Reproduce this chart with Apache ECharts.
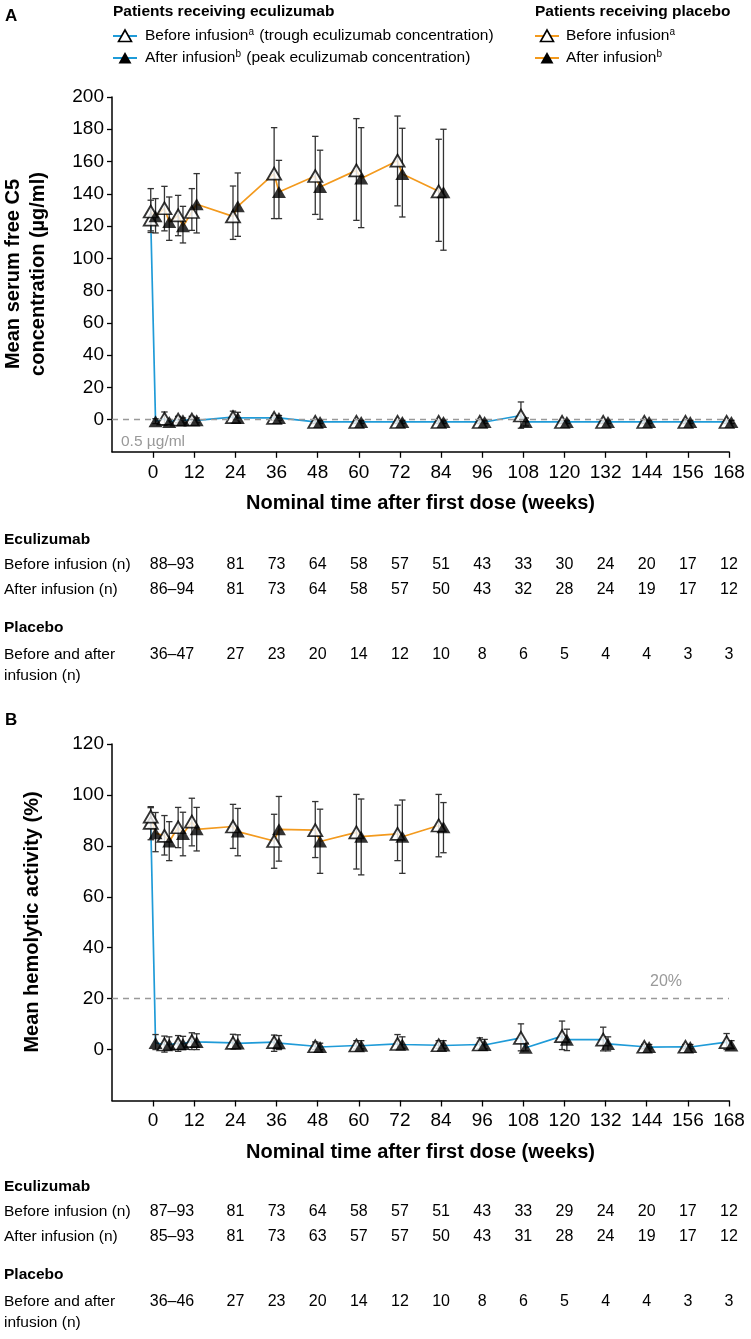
<!DOCTYPE html>
<html><head><meta charset="utf-8">
<script src="https://cdn.jsdelivr.net/npm/echarts@6/dist/echarts.min.js"></script>
<style>html,body{margin:0;padding:0;background:#fff}#c{width:751px;height:1339px}</style>
</head><body><div id="c"></div>
<script>
// ---------- DATA ----------
const weeks = [0,4,8,12,24,36,48,60,72,84,96,108,120,132,144,156,168];
const placeboWeeks = [0,4,8,12,24,36,48,60,72,84];
const xTicks = [0,12,24,36,48,60,72,84,96,108,120,132,144,156,168];
const yTicksA = [0,20,40,60,80,100,120,140,160,180,200];
const yTicksB = [0,20,40,60,80,100,120];

// Panel A: serum free C5 (µg/ml)
const ecuBeforeA     = [124, 0.5, 0, 0, 1.5, 1, -1.5, -1.5, -1.5, -1.5, -1.5, 2.5, -1.5, -1.5, -1.5, -1.5, -1.5];
const ecuBeforeLowA  = [116, -3.5, -2, -2, -2, -0.5, -2.5, -2.5, -2.5, -2.5, -2.5, -5.4, -2.5, -2.5, -2.5, -2.5, -2.5];
const ecuBeforeHighA = [136, 4.7, 2, 2, 5.2, 2.5, -0.5, -0.5, -0.5, -0.5, -0.5, 10.9, -0.5, -0.5, -0.5, -0.5, -0.5];
const ecuAfterA      = [-1, -1.5, -0.5, -0.5, 1, 1, -1.5, -1.5, -1.5, -1.5, -1.5, -1.5, -1.5, -1.5, -1.5, -1.5, -1.5];
const ecuAfterLowA   = [-2.5, -3, -2, -2, -2.1, -0.5, -2.5, -2.5, -2.5, -2.5, -2.5, -4, -2.5, -2.5, -2.5, -2.5, -2.5];
const ecuAfterHighA  = [0.5, 0, 1, 1, 4.5, 2.5, -0.5, -0.5, -0.5, -0.5, -0.5, 1, -0.5, -0.5, -0.5, -0.5, -0.5];

const plaBeforeA     = [129, 131, 126.6, 128.7, 126, 152.5, 151, 154.5, 160.5, 141.5];
const plaBeforeLowA  = [117, 117, 114, 117.3, 111.7, 124.6, 127.2, 123.5, 132.5, 110.5];
const plaBeforeHighA = [143.2, 144.6, 139, 143.2, 144.8, 181, 175.6, 186.6, 188.2, 173.8];
const plaAfterA      = [126, 122.5, 119.8, 133.5, 132.2, 141.1, 144.2, 149.4, 152.2, 141];
const plaAfterLowA   = [115.7, 111.1, 109.5, 115.7, 113.6, 124.6, 124.2, 119, 125.6, 105];
const plaAfterHighA  = [137, 138, 132.2, 152.5, 152.9, 160.7, 167, 181, 180.6, 180];

// Panel B: hemolytic activity (%)
const ecuBeforeB     = [89, 2, 2.4, 3.3, 2.6, 2.9, 1.3, 1.6, 2.2, 1.7, 2, 4.6, 5.3, 3.9, 1.1, 1.1, 2.9];
const ecuBeforeLowB  = [82.4, -1, -0.7, 0, 0.3, -0.7, 0, 0.2, 0.3, 0.5, 0.3, -0.5, 0, -0.5, 0.3, 0.3, 0];
const ecuBeforeHighB = [95, 5.3, 5.5, 6.6, 6, 5.7, 3, 3.5, 5.9, 3.5, 4.6, 10.1, 11.2, 8.8, 2, 2, 6.3];
const ecuAfterB      = [2.6, 2, 2.2, 3, 2.4, 2.5, 1, 1.5, 2, 1.6, 1.8, 0.7, 3.9, 2.2, 1, 1, 1.6];
const ecuAfterLowB   = [0, 0, 0, 0, 0.5, 0, 0, 0.3, 0.5, 0.5, 0.3, -0.5, -0.4, -0.5, 0.3, 0.3, 0.3];
const ecuAfterHighB  = [5.9, 5, 5.2, 6.2, 5.8, 5.5, 2.5, 3.5, 5, 3.5, 4, 2.5, 8, 5, 2, 2, 3.5];

const plaBeforeB     = [91.5, 83.9, 87.3, 89.5, 87.6, 81.9, 86.2, 85.3, 84.7, 88];
const plaBeforeLowB  = [87, 76.4, 79.3, 80, 79, 71.2, 75.4, 70.9, 74.2, 75.7];
const plaBeforeHighB = [95.4, 91.9, 95.1, 98.7, 96.3, 92.4, 97.4, 100.2, 96, 100.2];
const plaAfterB      = [85, 81.7, 84.7, 86.5, 85.6, 86.5, 81.7, 83.6, 83.6, 87.3];
const plaAfterLowB   = [77.7, 74.2, 76.1, 78, 76.1, 74, 69.2, 68.6, 69.2, 77.3];
const plaAfterHighB  = [93.1, 89.5, 93.2, 95.1, 94.7, 99.4, 94.4, 98.4, 98, 97];

// Tables (numbers of patients)
const tableColWeeks = [5.5,24,36,48,60,72,84,96,108,120,132,144,156,168];
const ecuBeforeNA = ['88–93','81','73','64','58','57','51','43','33','30','24','20','17','12'];
const ecuAfterNA  = ['86–94','81','73','64','58','57','50','43','32','28','24','19','17','12'];
const placeboNA   = ['36–47','27','23','20','14','12','10','8','6','5','4','4','3','3'];
const ecuBeforeNB = ['87–93','81','73','64','58','57','51','43','33','29','24','20','17','12'];
const ecuAfterNB  = ['85–93','81','73','63','57','57','50','43','31','28','24','19','17','12'];
const placeboNB   = ['36–46','27','23','20','14','12','10','8','6','5','4','4','3','3'];

// ---------- STYLE ----------
const FONT = '"Liberation Sans", Arial, Helvetica, sans-serif';
const BLUE = '#1f9bd8';
const ORANGE = '#f39a1e';
const GREY = '#999999';
const DODGE = 0.7;

const chart = echarts.init(document.getElementById('c'));

function pts(ws, vals, off) { return ws.map((w, i) => [w + off, vals[i]]); }
function interleave(ws, b, a) {
  const out = [];
  ws.forEach((w, i) => { out.push([w - DODGE, b[i]]); out.push([w + DODGE, a[i]]); });
  return out;
}
function errSeries(g, ws, lo, hi, off) {
  return {
    type: 'custom', xAxisIndex: g, yAxisIndex: g, z: 3, silent: true, clip: false,
    data: ws.map((w, i) => [w + off, lo[i], hi[i]]),
    encode: { x: 0, y: [1, 2] },
    renderItem: function (params, api) {
      const x = api.value(0);
      const p1 = api.coord([x, api.value(1)]);
      const p2 = api.coord([x, api.value(2)]);
      const cw = 3.2;
      const st = { stroke: '#333', lineWidth: 1.3 };
      return { type: 'group', children: [
        { type: 'line', shape: { x1: p1[0], y1: p1[1], x2: p2[0], y2: p2[1] }, style: st },
        { type: 'line', shape: { x1: p1[0] - cw, y1: p1[1], x2: p1[0] + cw, y2: p1[1] }, style: st },
        { type: 'line', shape: { x1: p2[0] - cw, y1: p2[1], x2: p2[0] + cw, y2: p2[1] }, style: st }
      ]};
    }
  };
}
function lineSeries(g, data, color, mark) {
  const s = { type: 'line', xAxisIndex: g, yAxisIndex: g, data: data, symbol: 'none', z: 2, clip: false,
    lineStyle: { color: color, width: 1.7 }, silent: true, animation: false };
  if (mark !== undefined) {
    s.markLine = { silent: true, symbol: ['none', 'none'], label: { show: false },
      lineStyle: { type: [6, 5], color: GREY, width: 1.4 }, data: [{ yAxis: mark }], animation: false };
  }
  return s;
}
function markers(g, data, open) {
  return { type: 'scatter', xAxisIndex: g, yAxisIndex: g, data: data, symbol: 'triangle', clip: false,
    symbolSize: [14, 12], z: open ? 4 : 5, silent: true,
    itemStyle: open ? { color: '#fff', borderColor: '#000', borderWidth: 1.8 } : { color: '#000' } };
}
function xAxis(g) {
  return { gridIndex: g, type: 'value', min: -12, max: 168, interval: 12,
    axisLine: { onZero: false, lineStyle: { color: '#000', width: 1.5 } },
    axisTick: { customValues: xTicks, length: 6, lineStyle: { color: '#000', width: 1.3 } },
    axisLabel: { customValues: xTicks, fontSize: 19, color: '#000', margin: 11, fontFamily: FONT,
      formatter: v => (v < 0 ? '' : String(v)) },
    splitLine: { show: false },
    name: 'Nominal time after first dose (weeks)', nameLocation: 'middle', nameGap: 42,
    nameTextStyle: { fontWeight: 'bold', fontSize: 20, color: '#000', fontFamily: FONT } };
}
function yAxis(g, max, ticks) {
  return { gridIndex: g, type: 'value', min: -20, max: max, interval: 20,
    axisLine: { show: true, onZero: false, lineStyle: { color: '#000', width: 1.5 } },
    axisTick: { show: true, customValues: ticks, length: 5, lineStyle: { color: '#000', width: 1.3 } },
    axisLabel: { customValues: ticks, fontSize: 19, color: '#000', margin: 8, fontFamily: FONT,
      formatter: v => (v < 0 ? '' : String(v)) },
    splitLine: { show: false } };
}

const option = {
  animation: false,
  backgroundColor: '#fff',
  textStyle: { fontFamily: FONT },
  grid: [
    { left: 112, top: 97, width: 617, height: 354.8 },
    { left: 112, top: 744, width: 617, height: 356.5 }
  ],
  xAxis: [xAxis(0), xAxis(1)],
  yAxis: [yAxis(0, 200, yTicksA), yAxis(1, 120, yTicksB)],
  series: [
    lineSeries(0, interleave(weeks, ecuBeforeA, ecuAfterA), BLUE, 0),
    lineSeries(0, interleave(placeboWeeks, plaBeforeA, plaAfterA), ORANGE),
    errSeries(0, weeks, ecuBeforeLowA, ecuBeforeHighA, -DODGE),
    errSeries(0, weeks, ecuAfterLowA, ecuAfterHighA, DODGE),
    errSeries(0, placeboWeeks, plaBeforeLowA, plaBeforeHighA, -DODGE),
    errSeries(0, placeboWeeks, plaAfterLowA, plaAfterHighA, DODGE),
    markers(0, pts(weeks, ecuBeforeA, -DODGE), true),
    markers(0, pts(weeks, ecuAfterA, DODGE), false),
    markers(0, pts(placeboWeeks, plaBeforeA, -DODGE), true),
    markers(0, pts(placeboWeeks, plaAfterA, DODGE), false),

    lineSeries(1, interleave(weeks, ecuBeforeB, ecuAfterB), BLUE, 20),
    lineSeries(1, interleave(placeboWeeks, plaBeforeB, plaAfterB), ORANGE),
    errSeries(1, weeks, ecuBeforeLowB, ecuBeforeHighB, -DODGE),
    errSeries(1, weeks, ecuAfterLowB, ecuAfterHighB, DODGE),
    errSeries(1, placeboWeeks, plaBeforeLowB, plaBeforeHighB, -DODGE),
    errSeries(1, placeboWeeks, plaAfterLowB, plaAfterHighB, DODGE),
    markers(1, pts(weeks, ecuBeforeB, -DODGE), true),
    markers(1, pts(weeks, ecuAfterB, DODGE), false),
    markers(1, pts(placeboWeeks, plaBeforeB, -DODGE), true),
    markers(1, pts(placeboWeeks, plaAfterB, DODGE), false)
  ]
};
chart.setOption(option);

// ---------- TEXT / LEGEND / TABLES ----------
const G = [];
function txt(x, y, s, o) {
  o = o || {};
  G.push({ type: 'text', x: x, y: y, rotation: o.rot || 0, silent: true,
    style: { text: s, fontSize: o.size || 15.5, fontWeight: o.bold ? 'bold' : 'normal',
      fill: o.color || '#000', fontFamily: FONT, align: o.align || 'left', verticalAlign: 'middle',
      rich: o.rich } });
}
const supRich = {
  n: { fontSize: 15.5, fontFamily: FONT, fill: '#000', lineHeight: 18 },
  s: { fontSize: 10, fontFamily: FONT, fill: '#000', lineHeight: 18, verticalAlign: 'top', padding: [0, 1, 6, 0] }
};
function legendGlyph(x, y, color, open) {
  G.push({ type: 'line', silent: true, shape: { x1: x, y1: y, x2: x + 24, y2: y }, style: { stroke: color, lineWidth: 2 } });
  G.push({ type: 'polygon', silent: true, shape: { points: [[x + 12, y - 6], [x + 18.5, y + 5.5], [x + 5.5, y + 5.5]] },
    style: open ? { fill: '#fff', stroke: '#000', lineWidth: 1.6 } : { fill: '#000' } });
}

// Panel labels
txt(5, 16, 'A', { bold: true, size: 17 });
txt(5, 720, 'B', { bold: true, size: 17 });

// Legend
txt(113, 12, 'Patients receiving eculizumab', { bold: true, size: 15.5 });
txt(535, 12, 'Patients receiving placebo', { bold: true, size: 15.5 });
legendGlyph(113, 36, BLUE, true);
legendGlyph(113, 58, BLUE, false);
legendGlyph(535, 36, ORANGE, true);
legendGlyph(535, 58, ORANGE, false);
txt(145, 36, '{n|Before infusion}{s|a}{n| (trough eculizumab concentration)}', { rich: supRich });
txt(145, 58, '{n|After infusion}{s|b}{n| (peak eculizumab concentration)}', { rich: supRich });
txt(566, 36, '{n|Before infusion}{s|a}', { rich: supRich });
txt(566, 58, '{n|After infusion}{s|b}', { rich: supRich });

// Y axis titles
txt(13, 274, 'Mean serum free C5', { bold: true, size: 20, rot: Math.PI / 2, align: 'center' });
txt(38, 274, 'concentration (µg/ml)', { bold: true, size: 20, rot: Math.PI / 2, align: 'center' });
txt(32, 922, 'Mean hemolytic activity (%)', { bold: true, size: 20, rot: Math.PI / 2, align: 'center' });

// Reference line labels
txt(121, 442, '0.5 µg/ml', { color: GREY, size: 15.5 });
txt(650, 982, '20%', { color: GREY, size: 16 });

// Tables
const colX = tableColWeeks.map(w => chart.convertToPixel({ xAxisIndex: 0 }, w));
function row(y, label, vals) {
  if (label) txt(4, y, label, { size: 15.5 });
  if (vals) vals.forEach((v, i) => txt(colX[i], y, v, { size: 16, align: 'center' }));
}
function table(y0, eb, ea, pl) {
  txt(4, y0, 'Eculizumab', { bold: true, size: 15.5 });
  row(y0 + 25, 'Before infusion (n)', eb);
  row(y0 + 50, 'After infusion (n)', ea);
  txt(4, y0 + 88, 'Placebo', { bold: true, size: 15.5 });
  row(y0 + 115, 'Before and after', pl);
  row(y0 + 136, 'infusion (n)', null);
}
table(540, ecuBeforeNA, ecuAfterNA, placeboNA);
table(1187, ecuBeforeNB, ecuAfterNB, placeboNB);

chart.setOption({ graphic: G });
</script>
</body></html>
